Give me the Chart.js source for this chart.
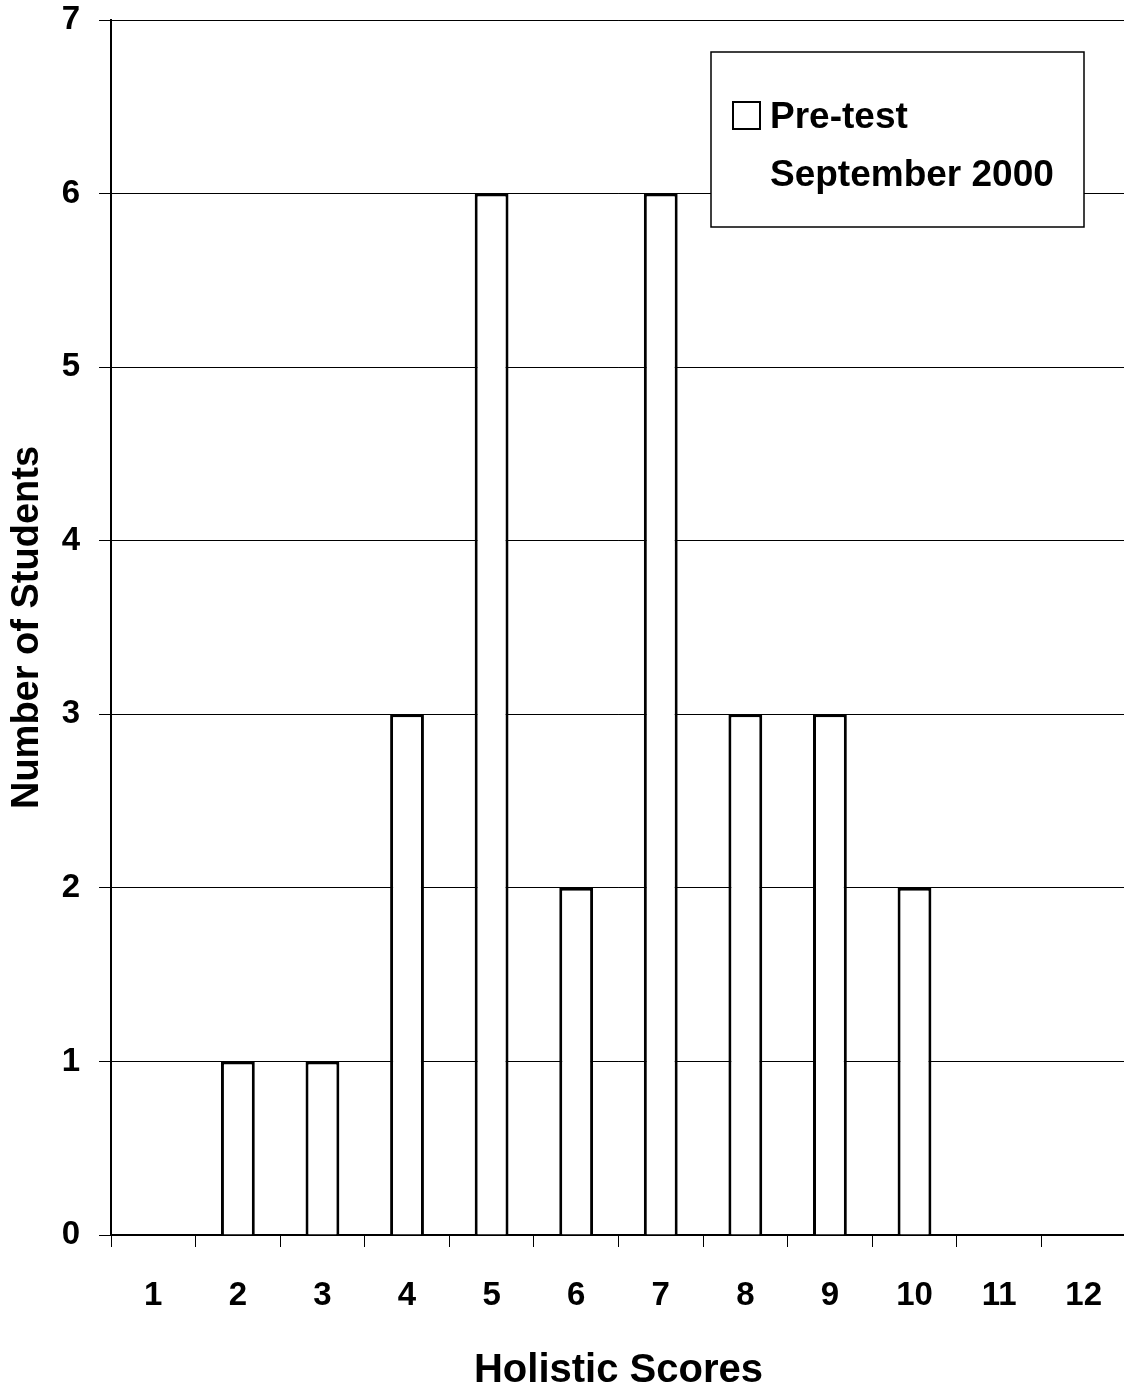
<!DOCTYPE html>
<html>
<head>
<meta charset="utf-8">
<script src="https://cdn.jsdelivr.net/npm/chart.js@4.4.1/dist/chart.umd.min.js"></script>
<style>
html, body { margin: 0; padding: 0; background: #fff; overflow: hidden; }
#wrap { width: 1131px; height: 1395px; }
</style>
</head>
<body>
<div id="wrap"><canvas id="c" width="1131" height="1395"></canvas></div>
<script>
const categories = ['1','2','3','4','5','6','7','8','9','10','11','12'];
const studentCounts = [0, 1, 1, 3, 6, 2, 6, 3, 3, 2, 0, 0];
const legendLines = ['Pre-test', 'September 2000'];
const xTitle = 'Holistic Scores';
const yTitle = 'Number of Students';
const yMin = 0, yMax = 7, yStep = 1;

const FONT = "'Liberation Sans', Arial, sans-serif";

const legendBoxPlugin = {
  id: 'legendBox',
  afterDraw(chart) {
    const ctx = chart.ctx;
    ctx.save();
    const bx = 711, by = 52, bw = 373, bh = 175;
    ctx.fillStyle = '#fff';
    ctx.fillRect(bx, by, bw, bh);
    ctx.strokeStyle = '#000';
    ctx.lineWidth = 1.5;
    ctx.strokeRect(bx, by, bw, bh);
    ctx.lineWidth = 2;
    ctx.strokeRect(733, 102, 27, 27);
    ctx.fillStyle = '#000';
    ctx.font = 'bold 37px ' + FONT;
    ctx.textBaseline = 'alphabetic';
    ctx.textAlign = 'left';
    ctx.fillText(legendLines[0], 770, 128);
    ctx.fillText(legendLines[1], 770, 186);
    ctx.restore();
  }
};

new Chart(document.getElementById('c'), {
  type: 'bar',
  data: {
    labels: categories,
    datasets: [{
      label: legendLines.join(' '),
      data: studentCounts,
      backgroundColor: '#ffffff',
      borderColor: '#000000',
      borderWidth: 3,
      borderSkipped: 'start',
      categoryPercentage: 1.0,
      barPercentage: 0.4
    }]
  },
  options: {
    responsive: false,
    animation: false,
    devicePixelRatio: 1,
    layout: { padding: { top: 0, left: 0, right: 0, bottom: 0 } },
    plugins: {
      legend: { display: false },
      tooltip: { enabled: false }
    },
    scales: {
      x: {
        offset: true,
        grid: {
          offset: true,
          drawOnChartArea: false,
          drawTicks: true,
          tickLength: 12,
          color: '#000',
          lineWidth: 1
        },
        border: { display: true, color: '#000', width: 2 },
        ticks: {
          color: '#000',
          font: { family: FONT, size: 33, weight: 'bold' },
          padding: 29,
          maxRotation: 0,
          autoSkip: false
        },
        title: {
          display: true,
          text: xTitle,
          color: '#000',
          font: { family: FONT, size: 40, weight: 'bold' },
          padding: { top: 0, bottom: 0 }
        },
        afterFit(scale) { scale.height = 160; }
      },
      y: {
        min: yMin,
        max: yMax,
        grid: {
          drawOnChartArea: true,
          drawTicks: true,
          tickLength: 12,
          color: '#000',
          lineWidth: 1
        },
        border: { display: true, color: '#000', width: 2 },
        ticks: {
          stepSize: yStep,
          color: '#000',
          font: { family: FONT, size: 33, weight: 'bold' },
          padding: 19
        },
        title: {
          display: true,
          text: yTitle,
          color: '#000',
          font: { family: FONT, size: 38, weight: 'bold' },
          padding: { top: 5, bottom: 0 }
        },
        afterFit(scale) {
          scale.width = 111;
          scale.paddingTop = 20;
          scale.paddingBottom = 0;
        }
      }
    }
  },
  plugins: [legendBoxPlugin]
});
</script>
</body>
</html>
